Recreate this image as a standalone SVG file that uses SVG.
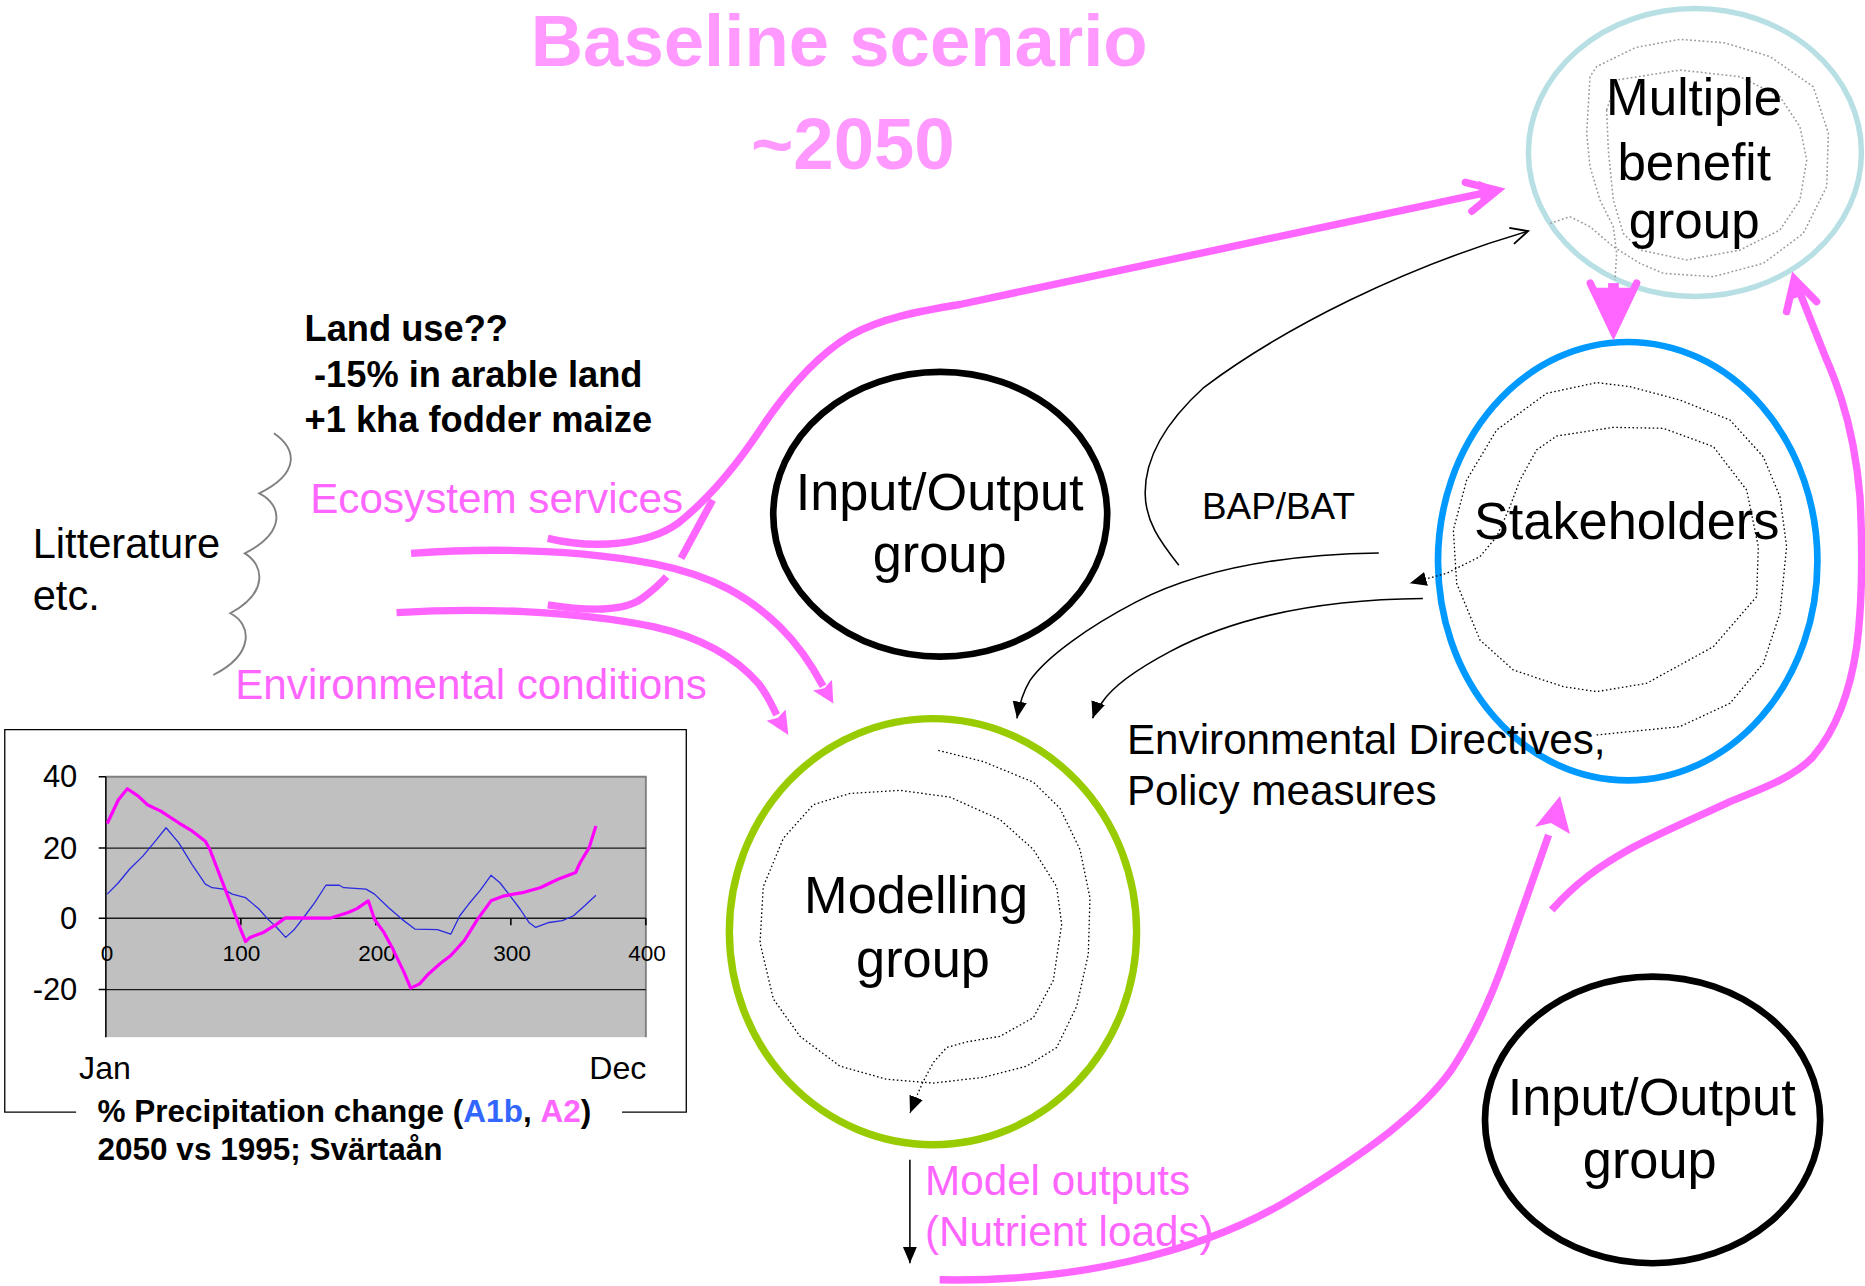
<svg xmlns="http://www.w3.org/2000/svg" width="1865" height="1286" viewBox="0 0 1865 1286">
<defs>
<style>
.t{font-family:"Liberation Sans",Arial,Helvetica,sans-serif}
.b{font-weight:bold}
.pk{fill:none;stroke:#FF66FF;stroke-width:6.2}
.pkf{fill:#FF66FF}
.bl{fill:none;stroke:#000;stroke-width:1.3}
.dot{fill:none;stroke:#000;stroke-width:1.1;stroke-dasharray:1.3 2.1}
.gdot{fill:none;stroke:#999;stroke-width:1.3;stroke-dasharray:1.5 2}
.grid{stroke:#1a1a1a;stroke-width:1.1}
</style>
<marker id="af" markerUnits="userSpaceOnUse" viewBox="0 0 15 13" markerWidth="15" markerHeight="13" refX="14" refY="6.5" orient="auto">
<path d="M0,0.5 L14,6.5 L0,12.5 Z" fill="#000"/>
</marker>
<marker id="ao" markerUnits="userSpaceOnUse" viewBox="0 0 17 16" markerWidth="17" markerHeight="16" refX="15.5" refY="8" orient="auto">
<path d="M1,1 L15.5,8 L1,15" fill="none" stroke="#000" stroke-width="1.5"/>
</marker>
</defs>
<rect width="1865" height="1286" fill="#fff"/>
<g transform="scale(1.18941)">

<g id="title" class="t b" fill="#FF99FF" font-size="61" text-anchor="middle">
<text x="705.5" y="55.5">Baseline scenario</text>
<text x="717" y="142">~2050</text>
</g>

<g id="litterature" class="t" font-size="35">
<text x="27.5" y="469.5">Litterature</text>
<text x="27.5" y="513">etc.</text>
<path d="M230.3,364.3 C250,378 252,398 218,414.8 C238,425 240,448 205.8,465.2 C222,475 226,498 193.6,515.6 C212,525 214,550 179.3,567.5" fill="none" stroke="#808080" stroke-width="1.6"/>
</g>

<g id="landuse" class="t b" font-size="30.5" fill="#000">
<text x="256" y="287">Land use??</text>
<text x="264" y="325">-15% in arable land</text>
<text x="256" y="363">+1 kha fodder maize</text>
</g>

<g id="flow-labels" class="t" font-size="35.5" fill="#FF66FF">
<text x="260.8" y="431.6">Ecosystem services</text>
<text x="197.7" y="587.5">Environmental conditions</text>
</g>

<g id="chart" class="t">
<path d="M64,935 L4,935 L4,613.5 L577,613.5 L577,935 L523,935" fill="none" stroke="#000" stroke-width="1.1"/>
<rect x="89" y="653" width="454" height="219" fill="#C0C0C0"/>
<path d="M89,653 L543,653 L543,872" fill="none" stroke="#808080" stroke-width="1.6"/>
<path class="grid" d="M89,713 L543,713 M89,772 L543,772 M89,832 L543,832"/>
<path d="M89,653 L89,872 M83,653 L89,653 M83,713 L89,713 M83,772 L89,772 M83,832 L89,832 M202.5,772 L202.5,778 M316,772 L316,778 M429.5,772 L429.5,778 M543,772 L543,778" stroke="#000" stroke-width="1.3" fill="none"/>
<g font-size="26" text-anchor="end">
<text x="65" y="662">40</text>
<text x="65" y="722">20</text>
<text x="65" y="781">0</text>
<text x="65" y="841">-20</text>
</g>
<g font-size="19" text-anchor="middle">
<text x="90" y="808">0</text>
<text x="203" y="808">100</text>
<text x="317" y="808">200</text>
<text x="430.5" y="808">300</text>
<text x="544" y="808">400</text>
</g>
<text x="66.5" y="907.5" font-size="27">Jan</text>
<text x="543.5" y="907.5" font-size="27" text-anchor="end">Dec</text>
<g transform="translate(89 772) scale(1.135 -2.983)" fill="none">
<polyline vector-effect="non-scaling-stroke" stroke="#2a2ae0" stroke-width="1.3" stroke-linejoin="round" points="1,6.8 9.3,10 17.5,13.8 27.4,17.5 35.7,21.3 44.6,25.5 53.9,21.3 63.8,15.2 73.7,9.6 78.7,8.6 87,8.2 93.6,6.8 103.5,5.8 113.4,2.6 120,-0.25 126.6,-2.6 133.2,-5.4 139.8,-3.1 146.5,0.2 154.7,4.4 163,9.3 172.9,9.3 176.2,8.6 192.7,8.2 199,6.8 209.3,3 219.2,-0.25 229.1,-3.1 245.6,-3.2 255.5,-4.5 262.2,0.7 268.8,4 277,7.7 285.3,12.1 291.9,10 298.5,6.8 306.8,2.6 313.4,-1.2 318.4,-2.6 328.3,-1.2 338.2,-0.7 346.4,0.7 354.7,3.5 363,6.5"/>
<polyline vector-effect="non-scaling-stroke" stroke="#FF00FF" stroke-width="3.2" stroke-linejoin="round" points="1,26.7 9.3,33.4 15.9,36.5 24,34.4 30.7,32 40.7,30.2 53.9,26.9 63.8,24.6 73.7,21.7 77,19.4 83.6,12.9 90.3,6.3 96.9,-0.2 100.2,-3.5 103.5,-6.6 106.8,-5.4 116.7,-4 126.6,-1.65 133,0.1 166,0 179.5,1.6 186,2.7 194.4,4.9 199,-0.3 206,-4 212.6,-8.7 220.8,-15.2 225.8,-19.7 232.4,-18.5 239,-15.7 247.3,-12.9 255.5,-10.5 265.5,-6.3 275.4,-0.25 285.3,4.9 295.2,6.3 308.4,7.2 321.7,8.6 334.9,11 348,12.9 351.4,15.7 358,19.9 363,26"/>
</g>
<g class="b" font-size="26.5" fill="#000">
<text x="82" y="943">% Precipitation change (<tspan fill="#3366FF">A1b</tspan>, <tspan fill="#FF66FF">A2</tspan>)</text>
<text x="82" y="975.5">2050 vs 1995; Svärtaån</text>
</g>
</g>

<g id="multiple-benefit-group">
<ellipse cx="1425" cy="128.2" rx="140" ry="121" fill="none" stroke="#B8E0E4" stroke-width="4.6"/>
<path class="gdot" d="M1303.2,187.8 L1320,182.2 L1336.8,190.6 L1356.4,207.4 L1378.8,221.4 L1398.4,229.8 L1440.5,232.6 L1482.5,221.4 L1516.1,196.2 L1535.8,156.9 L1537.2,112.1 L1524.5,72.9 L1488.1,47.6 L1450,36 L1412.5,33.1 L1375,40 L1342.4,56 L1336.8,64.5 L1334,112.1 L1336.8,140.1 L1345.2,168.2 L1356.4,190.6 L1359.2,213 L1357.8,235.4"/>
<path class="gdot" d="M1350.8,92.5 L1359.2,67.3 L1412.5,58.9 L1462.9,64.5 L1496.5,81.3 L1513.3,106.5 L1519,134.5 L1513.3,168.2 L1496.5,193.4 L1462.9,210.2 L1418.1,218.6 L1378.8,210.2 L1364.8,196.2 L1356.4,168.2 L1352.2,126.1 Z"/>
<g class="t" font-size="43" text-anchor="middle" fill="#000">
<text x="1424.4" y="96.7">Multiple</text>
<text x="1424.4" y="151.3">benefit</text>
<text x="1424.4" y="200.4">group</text>
</g>
</g>

<g id="stakeholders">
<ellipse cx="1368.5" cy="471.8" rx="159.5" ry="184.3" fill="none" stroke="#0099FF" stroke-width="5.6"/>
<path class="dot" marker-end="url(#af)" d="M1342.4,617.9 L1412.4,610.9 L1454.5,591.3 L1482.5,557.7 L1496.5,515.7 L1502.1,459.6 L1496.5,417.6 L1482.5,384 L1454.5,353.1 L1412.4,336.3 L1370.4,325.1 L1342.4,321.7 L1300.3,330.7 L1258.3,361.5 L1233.1,403.6 L1221.9,445.6 L1224.7,490.4 L1244.3,538.1 L1272.3,563.3 L1314.3,577.3 L1342.4,581.5 L1384.4,574.5 L1440.5,543.7 L1476.9,501.6 L1478.3,459.6 L1468.5,412 L1440.5,375.5 L1398.4,360.1 L1356.4,359.3 L1308.7,366.6 L1291.9,378.3 L1277.9,403.6 L1269.5,426 L1258.3,451.2 L1244.3,468 L1216.2,482 L1185.4,490.4"/>
<text class="t" x="1367.6" y="453.4" font-size="44" text-anchor="middle">Stakeholders</text>
</g>

<g id="io-group-top">
<ellipse cx="790.5" cy="432.4" rx="140.4" ry="119.7" fill="none" stroke="#000" stroke-width="5.6"/>
<g class="t" font-size="44" text-anchor="middle">
<text x="790" y="428.5">Input/Output</text>
<text x="790" y="481">group</text>
</g>
</g>

<g id="modelling-group">
<ellipse cx="784.4" cy="783.3" rx="171.2" ry="179.1" fill="none" stroke="#99CC00" stroke-width="6.2"/>
<path class="dot" marker-end="url(#af)" d="M788.9,630.9 L826.7,640.3 L868.8,657.6 L891.2,679.6 L908,714.2 L916.4,755 L915,802.2 L905.2,846.1 L888.4,880.7 L863.1,896.4 L826.7,905.8 L784.7,910.6 L745.4,907.4 L706.2,896.4 L672.6,871.3 L650.2,839.9 L639,792.7 L641.7,745.6 L658.6,704.8 L683.8,676.5 L714.6,667.1 L756.7,664.5 L798.7,670.2 L840.7,689 L868.8,714.2 L888.4,745.6 L892.6,777 L885.6,824.2 L868.8,855.6 L840.7,871.3 L812.7,876 L795.9,880.7 L784.7,893.3 L776.3,909 L770.7,921.6 L765.1,935.7"/>
<g class="t" font-size="44" text-anchor="middle">
<text x="770.2" y="767.6">Modelling</text>
<text x="776" y="821">group</text>
</g>
</g>

<g id="io-group-bottom">
<ellipse cx="1389.4" cy="941.6" rx="140.9" ry="120.5" fill="none" stroke="#000" stroke-width="5.6"/>
<g class="t" font-size="44" text-anchor="middle">
<text x="1388.7" y="937.4">Input/Output</text>
<text x="1387" y="990.7">group</text>
</g>
</g>

<g id="labels" class="t">
<text x="1010.6" y="436.6" font-size="31">BAP/BAT</text>
<text x="947.5" y="634" font-size="35.5">Environmental Directives,</text>
<text x="947.5" y="677" font-size="35.5">Policy measures</text>
<text x="777.7" y="1004.8" font-size="35.5" fill="#FF66FF">Model outputs</text>
<text x="777.7" y="1047.5" font-size="35.5" fill="#FF66FF">(Nutrient loads)</text>
</g>

<g id="connectors">
<path class="pk" d="M460.5,452.6 C500,462 545,458 570,440 C595,420 620,390 639,361.5 C660,330 685,300 715,282 C740,268 770,262 807,256 L1256,160.5"/>
<path class="pk" stroke-linecap="round" stroke-linejoin="miter" d="M1232,153.4 L1259,160 L1237.5,177.6"/>
<polygon class="pkf" points="1262,159.8 1243,152 1245,170"/>
<path class="pk" d="M572.6,469.4 L599.1,420.4"/>
<path class="pk" d="M460.5,508.6 C495,514 525,514 540,503 C548,497 555,491 560.4,484.8"/>
<path class="pk" d="M345.6,465.2 C420,460 490,463 550,474 C600,484 630,502 655.8,527 C672,543 683,560 692,577"/>
<polygon class="pkf" points="700.6,591.4 683.5,580.5 693,578.6 699.5,571.5"/>
<path class="pk" d="M333.4,515.1 C400,511 480,513 550,527 C590,536 618,552 638,575 C645,584 648,591 653,601"/>
<polygon class="pkf" points="662.8,618 644.6,606 654,603.5 660.5,596.5"/>
<path class="pk" stroke-linecap="round" d="M1337,238 L1356.5,279 L1376,238"/>
<polygon class="pkf" points="1340,242 1373,242 1356.5,281"/>
<rect class="pkf" x="1352" y="238" width="9" height="10"/>
<path class="pk" d="M1304.6,765.1 C1325,742 1345,728 1370,714 C1400,698 1425,688 1454.5,674 C1485,662 1510,652 1524.5,636 C1545,612 1556,578 1561,544 C1566,505 1566,460 1563.8,417.6 C1561,385 1556,360 1548,335 C1543,320 1540,312 1535.8,302.7 L1510,238"/>
<path class="pk" stroke-linecap="round" stroke-linejoin="miter" d="M1527.3,253.6 L1508.5,234.5 L1502.1,262"/>
<polygon class="pkf" points="1507.5,231 1520,247 1505,252"/>
<path class="pk" d="M790,1076 C900,1078 1010,1055 1090,1005 C1150,968 1195,935 1220,900 C1240,870 1255,835 1265,807 L1302,702"/>
<polygon class="pkf" points="1311.6,669.3 1290.6,695 1304,692 1320,701.2"/>
<path class="bl" marker-end="url(#ao)" d="M991.1,475.2 C975,455 963,438 962.8,415 C962.5,385 980,355 1012.3,325.6 C1080,275 1180,225 1284.8,194.3"/>
<path class="bl" marker-end="url(#af)" d="M1159.2,464.9 C1080,466 1010,478 955.7,505.8 C915,527 880,552 866,572 C860,582 857,592 855,603.9"/>
<path class="bl" marker-end="url(#af)" d="M1196.3,503.2 C1110,504 1040,518 984,547.6 C955,563 935,578 927,590 C923,596 920,600 918.6,603.9"/>
<path class="bl" marker-end="url(#af)" d="M765,975 L765,1062"/>
</g>

</g>
</svg>
